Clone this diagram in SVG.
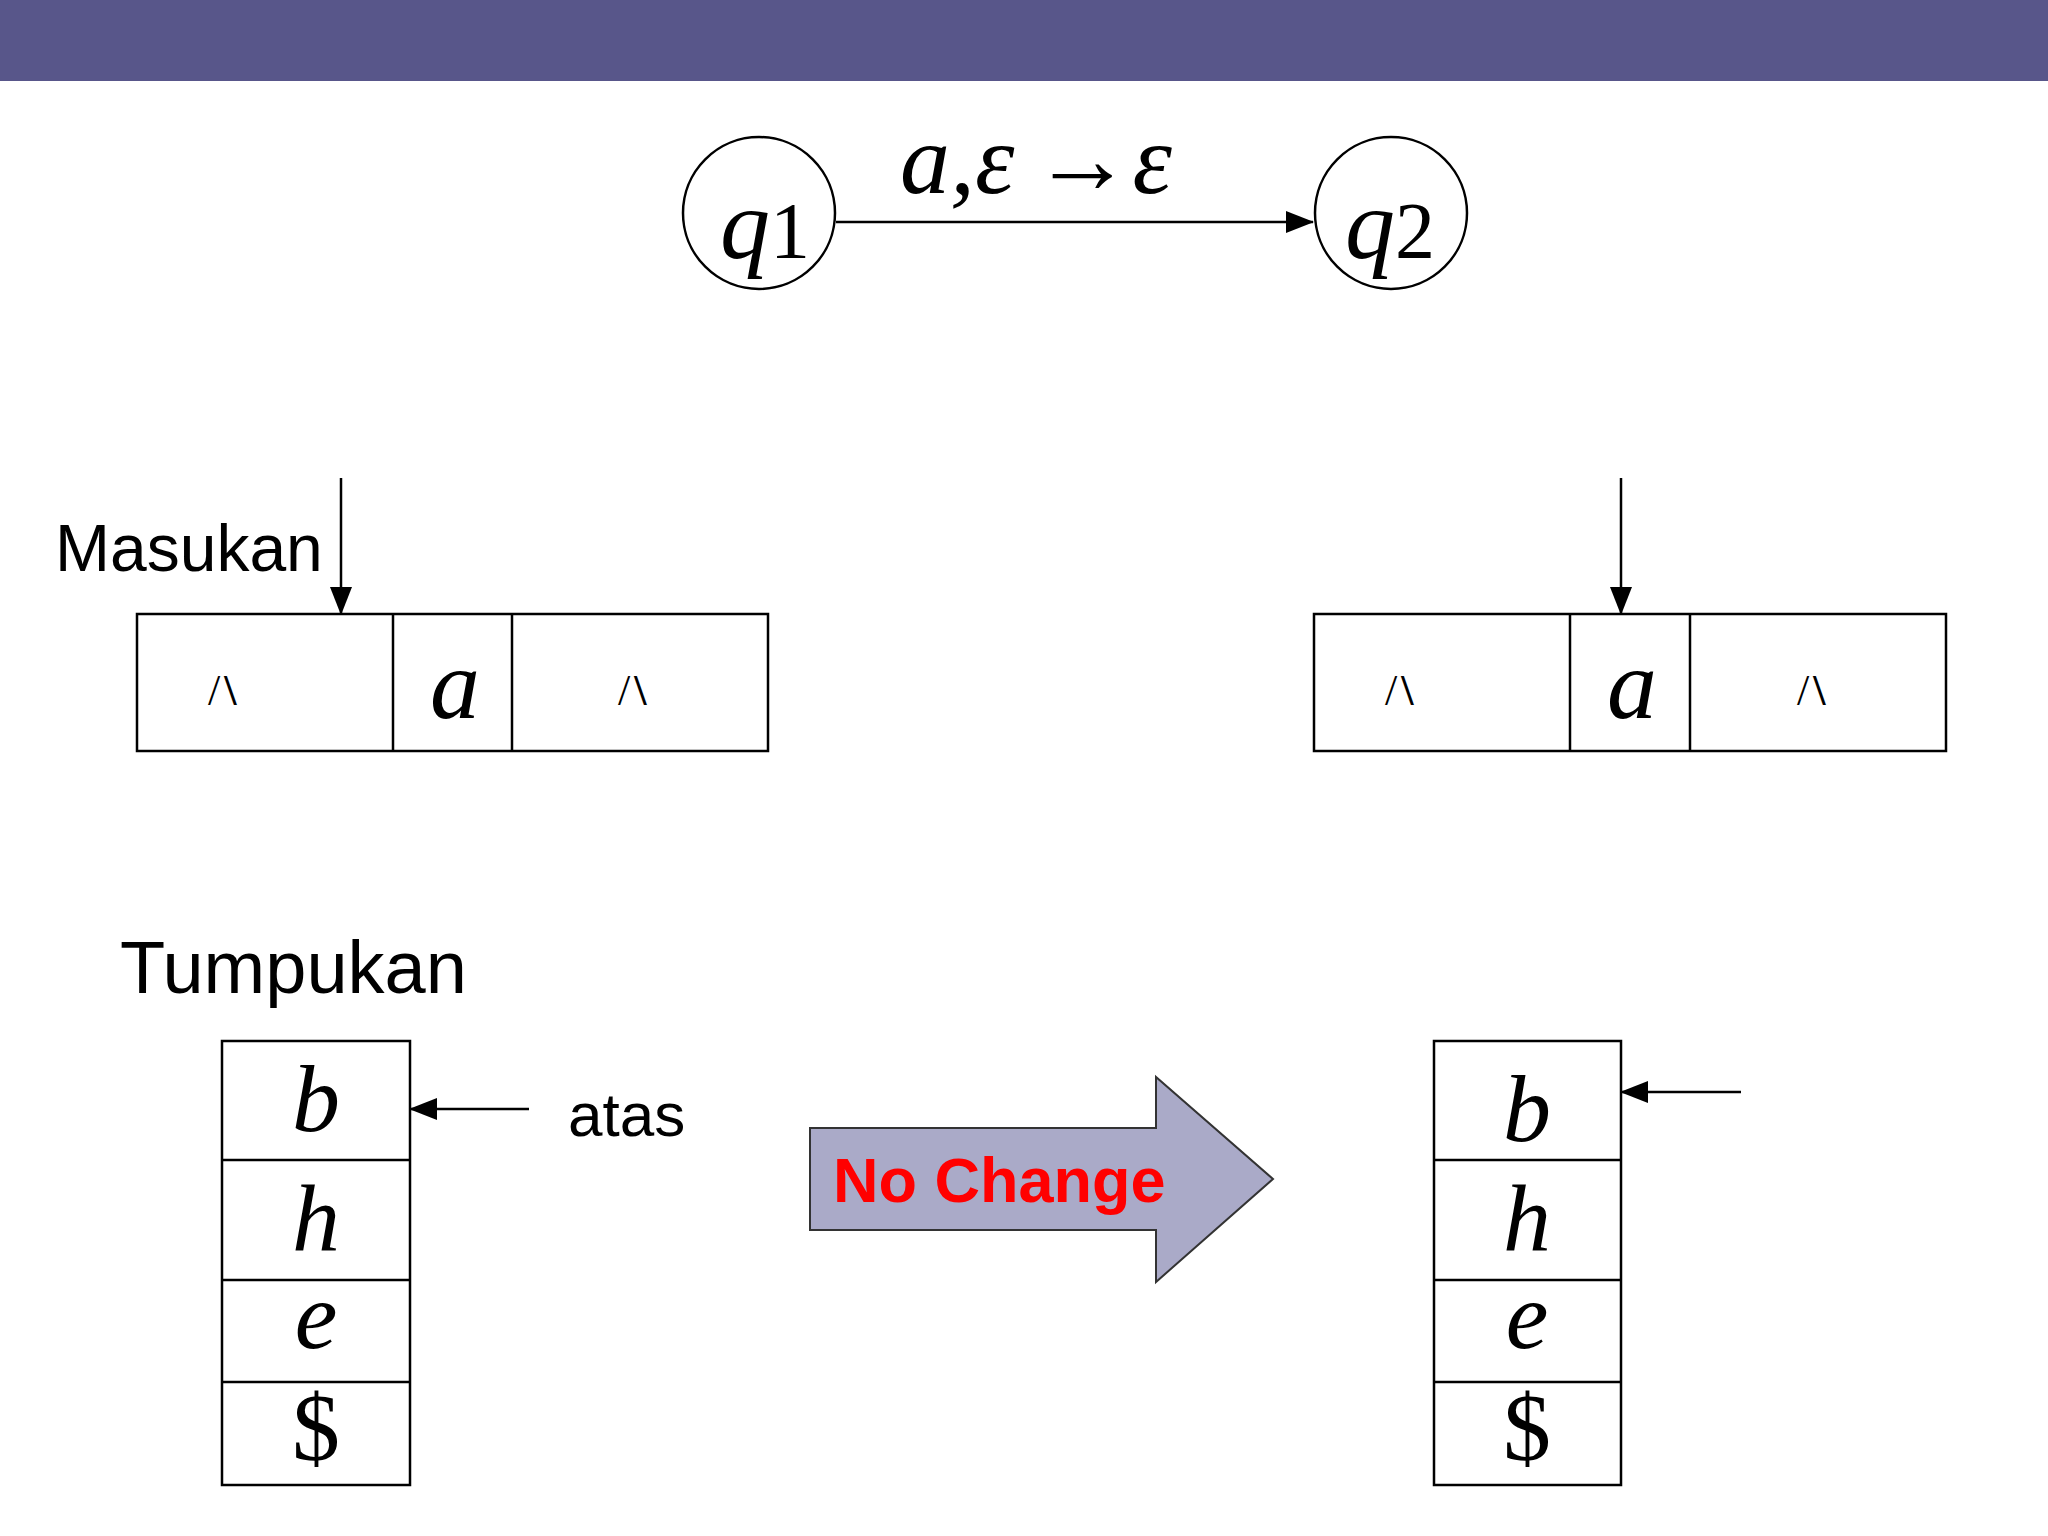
<svg xmlns="http://www.w3.org/2000/svg" width="2048" height="1536" viewBox="0 0 2048 1536">
<style>
.box{fill:#fff;stroke:#000;stroke-width:2.5}
.ln{stroke:#000;stroke-width:2.5;fill:none}
.it{font-family:"Liberation Serif",serif;font-style:italic;fill:#000}
.sf{font-family:"Liberation Sans",sans-serif;fill:#000}
.bl{font-family:"Liberation Serif",serif;font-size:44px;fill:#000}
</style>
<defs>
<marker id="ah" markerWidth="10" markerHeight="10" refX="9" refY="5" orient="auto" markerUnits="userSpaceOnUse" viewBox="0 0 10 10">
<path d="M0,0 L10,5 L0,10 z" fill="#000"/></marker>
<marker id="ah2" markerWidth="28" markerHeight="28" refX="27" refY="14" orient="auto" markerUnits="userSpaceOnUse" viewBox="0 0 28 28">
<path d="M0,3 L28,14 L0,25 z" fill="#000"/></marker>
</defs>
<rect x="0" y="0" width="2048" height="81" fill="#58568A"/>
<g id="connectors">
<line class="ln" x1="836" y1="222" x2="1313" y2="222" marker-end="url(#ah2)"/>
<line class="ln" x1="341" y1="478" x2="341" y2="614" marker-end="url(#ah2)"/>
<line class="ln" x1="1621" y1="478" x2="1621" y2="614" marker-end="url(#ah2)"/>
<line class="ln" x1="529" y1="1109" x2="410" y2="1109" marker-end="url(#ah2)"/>
<line class="ln" x1="1741" y1="1092" x2="1621" y2="1092" marker-end="url(#ah2)"/>
<text class="it" x="900" y="193" font-size="100">a,ε<tspan font-style="normal" dx="18">→</tspan>ε</text>
</g>
<g id="q1"><circle class="box" cx="759" cy="213" r="76"/><text class="it" x="720" y="258" font-size="100">q<tspan font-style="normal" font-size="80">1</tspan></text></g>
<g id="q2"><circle class="box" cx="1391" cy="213" r="76"/><text class="it" x="1345" y="258" font-size="100">q<tspan font-style="normal" font-size="80">2</tspan></text></g>
<text class="sf" x="55" y="571" font-size="66">Masukan</text>
<g id="tape1">
<rect class="box" x="137" y="614" width="631" height="137"/>
<line class="ln" x1="393" y1="614" x2="393" y2="751"/><line class="ln" x1="512" y1="614" x2="512" y2="751"/>
<text class="bl" x="208" y="705">/<tspan font-weight="bold" dx="4">\</tspan></text>
<text class="it" x="430" y="718" font-size="100">a</text>
<text class="bl" x="618" y="705">/<tspan font-weight="bold" dx="4">\</tspan></text>
</g>
<g id="tape2">
<rect class="box" x="1314" y="614" width="632" height="137"/>
<line class="ln" x1="1570" y1="614" x2="1570" y2="751"/><line class="ln" x1="1690" y1="614" x2="1690" y2="751"/>
<text class="bl" x="1385" y="705">/<tspan font-weight="bold" dx="4">\</tspan></text>
<text class="it" x="1607" y="718" font-size="100">a</text>
<text class="bl" x="1797" y="705">/<tspan font-weight="bold" dx="4">\</tspan></text>
</g>
<text class="sf" x="120" y="993" font-size="74">Tumpukan</text>
<g id="stack1">
<rect class="box" x="222" y="1041" width="188" height="444"/>
<line class="ln" x1="222" y1="1160" x2="410" y2="1160"/><line class="ln" x1="222" y1="1280" x2="410" y2="1280"/><line class="ln" x1="222" y1="1382" x2="410" y2="1382"/>
<g class="it" font-size="96" text-anchor="middle">
<text x="316" y="1131">b</text><text x="316" y="1251">h</text><text x="316" y="1348">e</text><text x="316" y="1460" font-style="normal">$</text></g>
</g>
<text class="sf" x="568" y="1136" font-size="62">atas</text>
<g id="stack2">
<rect class="box" x="1434" y="1041" width="187" height="444"/>
<line class="ln" x1="1434" y1="1160" x2="1621" y2="1160"/><line class="ln" x1="1434" y1="1280" x2="1621" y2="1280"/><line class="ln" x1="1434" y1="1382" x2="1621" y2="1382"/>
<g class="it" font-size="96" text-anchor="middle">
<text x="1527" y="1141">b</text><text x="1527" y="1251">h</text><text x="1527" y="1348">e</text><text x="1527" y="1460" font-style="normal">$</text></g>
</g>
<g id="bigarrow">
<path d="M810,1128 L1156,1128 L1156,1077 L1273,1179 L1156,1282 L1156,1230 L810,1230 Z" fill="#AAAAC8" stroke="#333" stroke-width="2"/>
<text x="833" y="1202" font-family="Liberation Sans,sans-serif" font-weight="bold" font-size="63" fill="#F00">No Change</text>
</g>
</svg>
